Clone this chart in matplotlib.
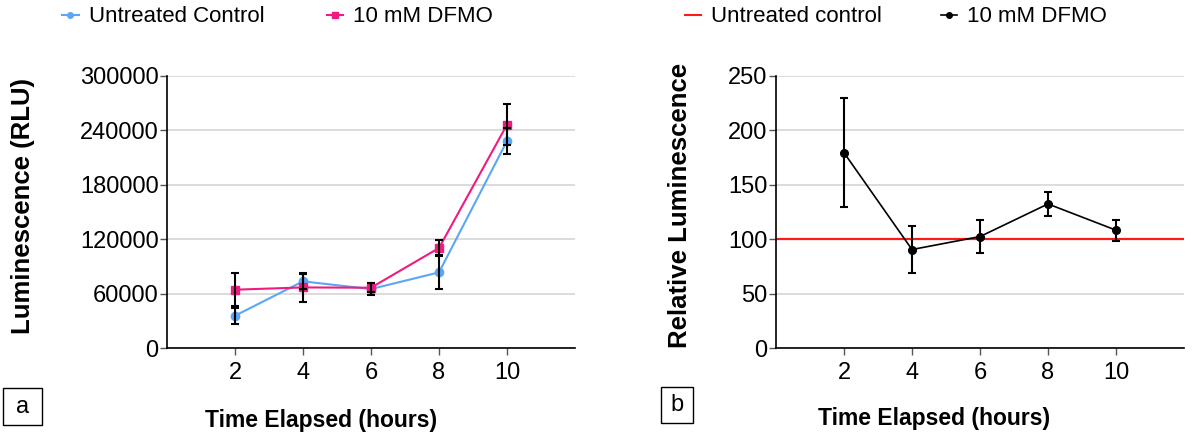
import matplotlib.pyplot as plt
from matplotlib.lines import Line2D
from matplotlib.patches import Rectangle
import numpy as np

plt.rcParams['font.family'] = ['Liberation Sans', 'DejaVu Sans']

hours = [2, 4, 6, 8, 10]

# panel a - raw luminescence (RLU)
control = [35600, 73500, 65000, 83400, 228300]
control_err = [9000, 8000, 7000, 18700, 14000]
dfmo = [64300, 66800, 66500, 110300, 246300]
dfmo_err = [18500, 16000, 5000, 8700, 22600]

# panel b - relative luminescence (% of control)
rel = [179.5, 90.5, 102.4, 132.4, 108.3]
rel_err = [50, 21.5, 15.5, 11, 9.5]
baseline = 100

blue = '#5ba6f5'
pink = '#f01b80'
red = '#ff1a1a'

W, H = 1192, 436
fig = plt.figure(figsize=(W / 100, H / 100), dpi=100)

def px_axes(x0, y0, x1, y1):
    return fig.add_axes([x0 / W, 1 - y1 / H, (x1 - x0) / W, (y1 - y0) / H])

def style(ax):
    for s in ['top', 'right']:
        ax.spines[s].set_visible(False)
    for s in ['left', 'bottom']:
        ax.spines[s].set_color('black')
        ax.spines[s].set_linewidth(1.2)
    ax.grid(axis='y', color='#d9d9d9', linewidth=1.3, zorder=0)
    ax.set_axisbelow(True)
    ax.tick_params(axis='both', labelsize=17, width=1, length=5, color='#555555', pad=1)
    ax.tick_params(axis='x', pad=5)
    ax.set_xlim(0, 12)
    ax.set_xticks(hours)

def panel_box(x0, y0, x1, y1, letter):
    fig.add_artist(Rectangle((x0 / W, 1 - y1 / H), (x1 - x0) / W, (y1 - y0) / H,
                             transform=fig.transFigure, fill=False, ec='black', lw=1))
    fig.text((x0 + x1) / 2 / W, 1 - (y0 + y1) / 2 / H, letter, fontsize=17,
             ha='center', va='center')

# ---------------- panel a
ax1 = px_axes(167, 76, 575, 348)
style(ax1)
ax1.set_ylim(0, 300000)
ax1.set_yticks(np.arange(0, 300001, 60000))
ax1.set_yticklabels([str(v) for v in range(0, 300001, 60000)])
ax1.plot(hours, control, color=blue, lw=1.5, marker='o', ms=6, zorder=3)
ax1.plot(hours, dfmo, color=pink, lw=1.5, marker='s', ms=6, zorder=4)
ax1.errorbar(hours, control, yerr=control_err, fmt='none', ecolor='black',
             elinewidth=1.5, capsize=3, capthick=1.5, zorder=5)
ax1.errorbar(hours, dfmo, yerr=dfmo_err, fmt='none', ecolor='black',
             elinewidth=1.5, capsize=3, capthick=1.5, zorder=5)
ax1.set_ylabel('Luminescence (RLU)', fontsize=18.5, fontweight='bold')
ax1.yaxis.label.set_va('center')
ax1.yaxis.set_label_coords(-(167 - 23) / 408, (348 - 206) / 272)
ax1.set_xlabel('Time Elapsed (hours)', fontsize=16.5, fontweight='bold')
ax1.xaxis.label.set_va('center')
ax1.xaxis.set_label_coords((321 - 167) / 408, -(420 - 348) / 272)

leg1 = [Line2D([], [], color=blue, marker='o', ms=4, lw=1.5),
        Line2D([], [], color=pink, marker='s', ms=4, lw=1.5)]
fig.legend(leg1, ['Untreated Control', '10 mM DFMO'], loc='center left',
           bbox_to_anchor=(62 / W, 1 - 17 / H), ncol=2, frameon=False,
           fontsize=16, handlelength=0.75, handletextpad=0.45, columnspacing=2.8,
           borderpad=0, borderaxespad=0)

panel_box(3, 388, 42, 425, 'a')

# ---------------- panel b
ax2 = px_axes(776, 76, 1184, 348)
style(ax2)
ax2.set_ylim(0, 250)
ax2.set_yticks(np.arange(0, 251, 50))
ax2.axhline(baseline, color=red, lw=1.6, zorder=2)
ax2.errorbar(hours, rel, yerr=rel_err, color='black', lw=1.2, marker='o', ms=5.5,
             ecolor='black', elinewidth=1.5, capsize=3, capthick=1.5, zorder=4)
ax2.set_ylabel('Relative Luminescence', fontsize=18.5, fontweight='bold')
ax2.yaxis.label.set_va('center')
ax2.yaxis.set_label_coords(-(776 - 680) / 408, (348 - 205.5) / 272)
ax2.set_xlabel('Time Elapsed (hours)', fontsize=16.5, fontweight='bold')
ax2.xaxis.label.set_va('center')
ax2.xaxis.set_label_coords((934 - 776) / 408, -(418 - 348) / 272)

leg2 = [Line2D([], [], color=red, lw=1.5),
        Line2D([], [], color='black', marker='o', ms=4, lw=1.2)]
fig.legend(leg2, ['Untreated control', '10 mM DFMO'], loc='center left',
           bbox_to_anchor=(685 / W, 1 - 17 / H), ncol=2, frameon=False,
           fontsize=16, handlelength=0.7, handletextpad=0.45, columnspacing=2.7,
           borderpad=0, borderaxespad=0)

panel_box(661, 387, 693, 423, 'b')

fig.savefig('out.png', dpi=100)
